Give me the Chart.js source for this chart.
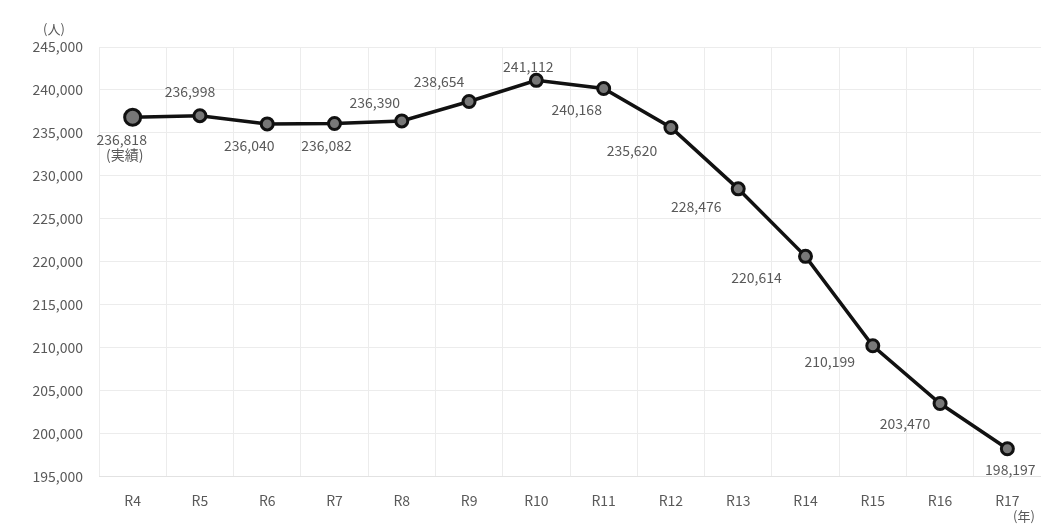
<!DOCTYPE html>
<html>
<head>
<meta charset="utf-8">
<script src="https://cdn.jsdelivr.net/npm/chart.js@4/dist/chart.umd.min.js"></script>
<style>
  html,body{margin:0;padding:0;background:#fff;overflow:hidden;}
  #wrap{width:1041px;height:525px;position:relative;}
</style>
</head>
<body>
<div id="wrap"><canvas id="c"></canvas></div>
<script>
const years = ['R4','R5','R6','R7','R8','R9','R10','R11','R12','R13','R14','R15','R16','R17'];
const population = [236818,236998,236040,236082,236390,238654,241112,240168,235620,228476,220614,210199,203470,198197];
const yTicks = [195000,200000,205000,210000,215000,220000,225000,230000,235000,240000,245000];
// value label nudges relative to each point (style only)
const labelNudge = [[-11,22],[-10,-24],[-18,22],[-8,22],[-27,-18],[-30,-20],[-8,-14],[-27,21],[-39,23],[-42,18],[-49,21],[-43,16],[-35,20],[3,21]];

const FONT = '"Noto Sans CJK JP", "Noto Sans", sans-serif';
const TXT = '#595959';
const fmt = v => Number(v).toLocaleString('en-US');

const valueLabels = {
  id:'valueLabels',
  afterDatasetsDraw(chart){
    const ctx = chart.ctx;
    const pts = chart.getDatasetMeta(0).data;
    ctx.save();
    ctx.font = '14px ' + FONT;
    ctx.fillStyle = TXT;
    ctx.textAlign = 'center';
    ctx.textBaseline = 'middle';
    pts.forEach((p,i)=>{
      const [dx,dy] = labelNudge[i];
      ctx.fillText(fmt(population[i]), p.x+dx, p.y+dy);
      if(i===0) ctx.fillText('(実績)', p.x+dx+3, p.y+dy+15);
    });
    ctx.restore();
  }
};

const unitLabels = {
  id:'unitLabels',
  afterDraw(chart){
    const ctx = chart.ctx;
    ctx.save();
    ctx.font = '13px ' + FONT;
    ctx.fillStyle = TXT;
    ctx.textAlign = 'center';
    ctx.textBaseline = 'middle';
    ctx.fillText('(人)', 54, 29);
    ctx.fillText('(年)', 1024, 516);
    ctx.restore();
  }
};

new Chart(document.getElementById('c'), {
  type:'line',
  data:{
    labels: years,
    datasets:[{
      data: population,
      borderColor:'#111',
      borderWidth:3.5,
      pointRadius:c=>c.dataIndex===0?8:6,
      pointHoverRadius:6,
      pointBorderWidth:3,
      pointBackgroundColor:'#777',
      pointBorderColor:'#111',
      tension:0,
      fill:false,
      clip:false
    }]
  },
  options:{
    responsive:true,
    maintainAspectRatio:false,
    animation:false,
    devicePixelRatio:1,
    layout:{autoPadding:false,padding:{top:47,right:-3,bottom:0,left:0}},
    plugins:{legend:{display:false},tooltip:{enabled:false}},
    scales:{
      x:{
        offset:true,
        afterFit:s=>{ s.paddingLeft = 0; s.paddingRight = 0; },
        grid:{offset:true,color:'#ececec',drawTicks:false},
        border:{color:'#e2e2e2'},
        ticks:{color:TXT,font:{size:14,family:FONT},padding:16,maxRotation:0,autoSkip:false}
      },
      y:{
        min:195000,max:245000,
        afterBuildTicks:s=>{ s.ticks = yTicks.map(v=>({value:v})); },
        afterFit:s=>{ s.width = 99; },
        grid:{color:'#ececec',drawTicks:false},
        border:{display:false},
        ticks:{color:TXT,font:{size:14,family:FONT},padding:16,callback:v=>fmt(v)}
      }
    }
  },
  plugins:[valueLabels, unitLabels]
});
</script>
</body>
</html>
